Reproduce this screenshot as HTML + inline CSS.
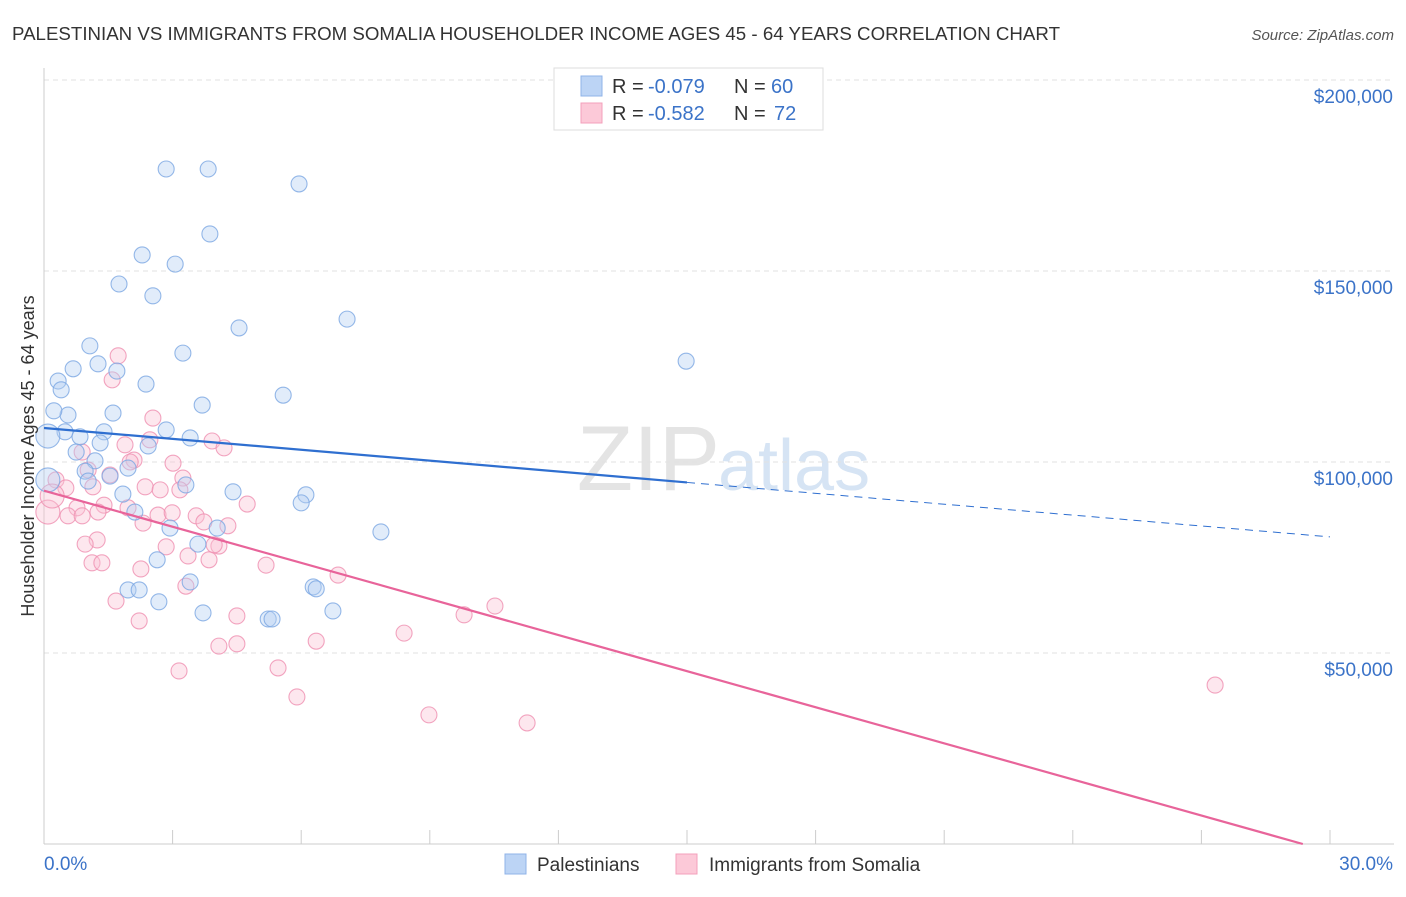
<!DOCTYPE html>
<html><head><meta charset="utf-8">
<style>
body{margin:0;background:#fff;font-family:"Liberation Sans",sans-serif;}
svg text{font-family:"Liberation Sans",sans-serif;}
</style></head>
<body>
<svg id="chart" width="1406" height="892" xmlns="http://www.w3.org/2000/svg">
<text x="12" y="40" font-size="18" fill="#333" textLength="1048" lengthAdjust="spacingAndGlyphs">PALESTINIAN VS IMMIGRANTS FROM SOMALIA HOUSEHOLDER INCOME AGES 45 - 64 YEARS CORRELATION CHART</text>
<text x="1394" y="40" font-size="15" fill="#555" text-anchor="end" font-style="italic">Source: ZipAtlas.com</text>
<text x="720" y="490" font-size="92" fill="#e4e4e4" text-anchor="end" font-family="Liberation Serif">ZIP</text>
<text x="718" y="490" font-size="72" fill="#d6e4f4">atlas</text>
<g id="grid"></g>
<g id="marks"></g>
<text transform="translate(34,456) rotate(-90)" font-size="18" fill="#333" text-anchor="middle">Householder Income Ages 45 - 64 years</text>
<g>
<rect x="554" y="68" width="269" height="62" fill="#fff" stroke="#ddd"/>
<rect x="581" y="76" width="21" height="20" fill="#bcd4f5" stroke="#8fb3e8"/>
<rect x="581" y="103" width="21" height="20" fill="#fcc9d8" stroke="#f3a0bb"/>
<text x="612" y="93" font-size="20" fill="#333">R =</text>
<text x="648" y="93" font-size="20" fill="#3b73c8">-0.079</text>
<text x="734" y="93" font-size="20" fill="#333">N =</text>
<text x="771" y="93" font-size="20" fill="#3b73c8">60</text>
<text x="612" y="120" font-size="20" fill="#333">R =</text>
<text x="648" y="120" font-size="20" fill="#3b73c8">-0.582</text>
<text x="734" y="120" font-size="20" fill="#333">N =</text>
<text x="774" y="120" font-size="20" fill="#3b73c8">72</text>
</g>
<g>
<rect x="505" y="854" width="21" height="20" fill="#bcd4f5" stroke="#8fb3e8"/>
<text x="537" y="871" font-size="19" fill="#333">Palestinians</text>
<rect x="676" y="854" width="21" height="20" fill="#fcc9d8" stroke="#f3a0bb"/>
<text x="709" y="871" font-size="19" fill="#333">Immigrants from Somalia</text>
</g>
</svg>
<script>
const xTicks=[0,3,6,9,12,15,18,21,24,27,30];
const yTicks=[50,100,150,200];
const yTickLabels=["$50,000","$100,000","$150,000","$200,000"];
const blueX=[2.85,3.83,5.95,3.87,2.29,3.06,1.75,2.54,4.55,7.07,3.24,1.07,1.26,0.68,1.70,0.33,0.40,2.38,5.58,3.69,1.61,0.56,0.23,0.49,1.40,0.84,2.85,3.41,2.43,1.31,0.09,0.75,1.19,0.96,1.54,1.96,1.03,4.41,6.11,6.00,1.84,3.31,2.12,4.04,2.94,7.86,3.59,2.64,3.41,1.96,2.22,6.28,6.35,2.68,6.74,3.71,5.23,5.32,14.98,0.09];
const blueY=[176.7,176.7,172.8,159.7,154.2,151.8,146.6,143.5,135.1,137.4,128.5,130.4,125.7,124.4,123.8,121.2,118.9,120.4,117.5,114.9,112.8,112.3,113.4,107.9,107.9,106.6,108.4,106.3,104.2,105.0,106.8,102.6,100.3,97.6,96.3,98.4,95.0,92.2,91.4,89.3,91.6,94.0,86.9,82.7,82.7,81.7,78.5,74.4,68.6,66.5,66.5,67.3,66.8,63.4,61.0,60.5,58.9,58.9,126.4,95.3];
const pinkX=[1.73,1.59,2.54,3.92,4.20,2.47,1.89,0.89,2.10,2.01,3.01,1.54,3.24,0.28,0.51,1.14,2.36,2.71,3.17,4.74,1.40,1.96,0.77,1.26,0.56,0.89,2.66,2.99,3.55,2.31,4.29,3.73,1.24,0.96,2.85,4.08,3.97,3.36,3.85,1.12,1.35,5.18,2.26,6.86,3.31,1.68,9.8,10.52,4.50,2.22,8.40,6.35,4.50,4.08,3.15,5.46,5.90,8.98,11.27,27.32,0.09,0.19,1.03];
const pinkY=[127.8,121.5,111.5,105.5,103.7,105.8,104.5,102.6,100.5,100.0,99.7,96.6,95.8,95.3,93.2,93.5,93.5,92.7,92.7,89.0,88.7,88.0,88.0,86.9,85.9,85.9,86.1,86.7,85.9,84.0,83.3,84.3,79.6,78.5,77.8,78.0,78.3,75.4,74.4,73.6,73.6,73.0,72.0,70.4,67.5,63.6,60.0,62.3,59.7,58.4,55.2,53.1,52.4,51.8,45.3,46.1,38.5,33.8,31.7,41.6,86.9,91.1,97.9];
const blueTrend=[108.9,-0.95];
const pinkTrend=[92.5,-3.15];
const NS="http://www.w3.org/2000/svg";
const sx=v=>44+v/30*1286;
const sy=v=>844-v/50*191;
function mk(t,a,p){const e=document.createElementNS(NS,t);for(const k in a)e.setAttribute(k,a[k]);p.appendChild(e);return e;}
const grid=document.getElementById('grid'),marks=document.getElementById('marks');
yTicks.forEach((t,i)=>{
 const g=mk('line',{x1:44,x2:1394,y1:sy(t),y2:sy(t),stroke:'#e2e2e2','stroke-dasharray':'5,4'},grid);
 
 
 const l=mk('text',{x:1393,y:sy(t)+23,'font-size':19,fill:'#3b73c8','text-anchor':'end'},grid);
 l.textContent=yTickLabels[i];
 
 
});
const ax=mk('line',{x1:44,x2:44,y1:68,y2:844,stroke:'#ccc'},grid);


const bx=mk('line',{x1:44,x2:1394,y1:844,y2:844,stroke:'#ccc'},grid);


xTicks.forEach(t=>{
 const e=mk('line',{x1:sx(t),x2:sx(t),y1:830,y2:844,stroke:'#ccc'},grid);
 
 
});
const x0=mk('text',{x:44,y:870,'font-size':19,fill:'#3b73c8'},grid);x0.textContent='0.0%';


const x1=mk('text',{x:1393,y:870,'font-size':19,fill:'#3b73c8','text-anchor':'end'},grid);x1.textContent='30.0%';


function pts(X,Y,fill,stroke,name){X.forEach((x,i)=>{
 const big=x<0.2;
 const c=mk('circle',{cx:sx(x),cy:sy(Y[i]),r:big?12:8,fill:fill,'fill-opacity':0.4,stroke:stroke,'stroke-width':1.1,'stroke-opacity':0.8},marks);
 
 
});}
pts(pinkX,pinkY,'#fbc2d4','#ef8fb0','somalia-point');
pts(blueX,blueY,'#b5cff2','#7aa6e2','palestinian-point');
const bl=mk('line',{x1:sx(0),y1:sy(blueTrend[0]),x2:sx(15),y2:sy(blueTrend[0]+blueTrend[1]*15),stroke:'#2f6fd0','stroke-width':2.2},marks);


const bd=mk('line',{x1:sx(15),y1:sy(blueTrend[0]+blueTrend[1]*15),x2:sx(30),y2:sy(blueTrend[0]+blueTrend[1]*30),stroke:'#2f6fd0','stroke-width':1,'stroke-dasharray':'8,6'},marks);


const xe=Math.min(30,-pinkTrend[0]/pinkTrend[1]);
const pl=mk('line',{x1:sx(0),y1:sy(pinkTrend[0]),x2:sx(xe),y2:sy(pinkTrend[0]+pinkTrend[1]*xe),stroke:'#e8649a','stroke-width':2.2},marks);


</script>
</body></html>
